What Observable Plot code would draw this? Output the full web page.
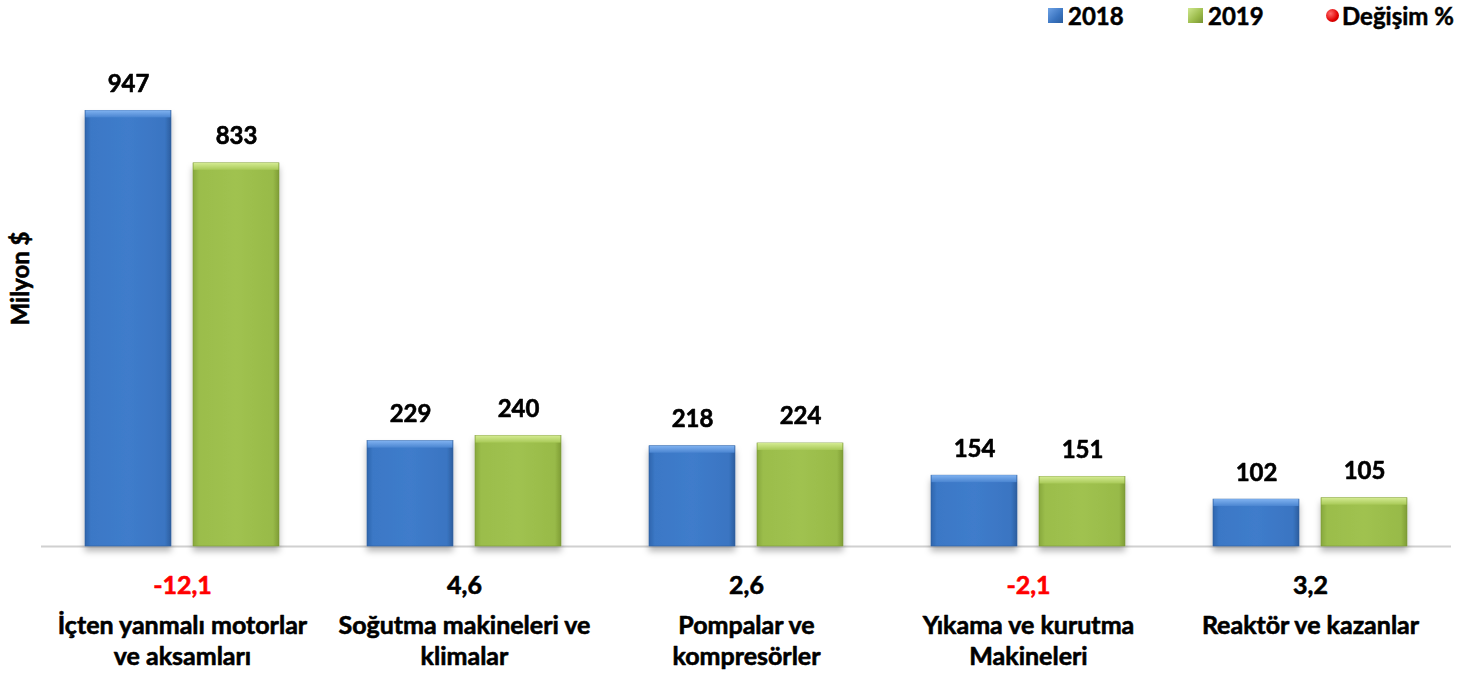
<!DOCTYPE html>
<html>
<head>
<meta charset="utf-8">
<script src="https://cdn.jsdelivr.net/npm/d3@7"></script>
<script src="https://cdn.jsdelivr.net/npm/@observablehq/plot@0.6"></script>
<style>
  html, body { margin: 0; padding: 0; background: #fff; }
  #wrap { position: relative; width: 1470px; height: 674px; font-family: Lato, "Open Sans", sans-serif; }
  #legend { position: absolute; top: 2px; left: 0; width: 1470px; height: 26px; font-weight: 700; font-size: 24px; color: #000; -webkit-text-stroke: 0.5px #000; }
  .li { position: absolute; top: 0; display: flex; align-items: center; height: 26px; }
  .sw { display: inline-block; width: 15px; height: 15px; margin-right: 5px; }
  .dot { display: inline-block; width: 13px; height: 13px; border-radius: 50%; margin-right: 3px;
         background: radial-gradient(circle at 35% 35%, #ff6a6a, #e00000 60%, #a00000); }
</style>
</head>
<body>
<div id="wrap">
  <div id="legend">
    <div class="li" style="left:1048px"><span class="sw" style="background:linear-gradient(135deg,#6fa3e6,#3a74c0 60%,#2b5d9e)"></span>2018</div>
    <div class="li" style="left:1188px"><span class="sw" style="background:linear-gradient(135deg,#cfe88f,#9bbb4a 60%,#779232)"></span>2019</div>
    <div class="li" style="left:1326px"><span class="dot"></span>Değişim %</div>
  </div>
  <div id="chart"></div>
</div>
<script>
const categories = [
  "İçten yanmalı motorlar\nve aksamları",
  "Soğutma makineleri ve\nklimalar",
  "Pompalar ve\nkompresörler",
  "Yıkama ve kurutma\nMakineleri",
  "Reaktör ve kazanlar"
];
const years = ["2018", "2019"];
const values2018 = [947, 229, 218, 154, 102];
const values2019 = [833, 240, 224, 151, 105];
const changePct = [-12.1, 4.6, 2.6, -2.1, 3.2];

const bars = [];
categories.forEach((c, i) => {
  bars.push({cat: c, year: "2018", value: values2018[i]});
  bars.push({cat: c, year: "2019", value: values2019[i]});
});
const changes = categories.map((c, i) => ({cat: c, change: changePct[i]}));

const fmt = v => v.toFixed(1).replace(".", ",");
const fillMain = {"2018": "url(#gBlue)", "2019": "url(#gGreen)"};
const fillTop = {"2018": "url(#gBlueTop)", "2019": "url(#gGreenTop)"};
const heavy = {fontWeight: 700, strokeWidth: 0.6};

const plot = Plot.plot({
  width: 1470,
  height: 674,
  marginLeft: 40,
  marginRight: 18,
  marginTop: 86,
  marginBottom: 128,
  style: {fontFamily: "Lato, 'Open Sans', sans-serif", background: "transparent"},
  fx: {domain: categories, padding: 0, axis: null},
  x: {domain: years, paddingInner: 0.2, paddingOuter: 0.394, axis: null},
  y: {domain: [0, 1000], axis: null},
  marks: [
    Plot.ruleY([0], {stroke: "#d0d0d0", strokeWidth: 2}),
    Plot.barY(bars, {fx: "cat", x: "year", y: "value", fill: d => fillMain[d.year], stroke: d => d.year === "2018" ? "#2f5f9c" : "#7b9636", strokeWidth: 0.6}),
    Plot.rect(bars, {fx: "cat", x: "year", y1: "value", y2: "value", insetBottom: -7, insetLeft: 0.5, insetRight: 0.5, fill: d => fillTop[d.year]}),
    Plot.text(bars, {fx: "cat", x: "year", y: "value", text: d => String(d.value), lineAnchor: "bottom", dy: -19, fontSize: 24, ...heavy, fill: "#000", stroke: "#000"}),
    Plot.text(changes, {fx: "cat", frameAnchor: "bottom", text: d => fmt(d.change), lineAnchor: "middle", dy: 39, fontSize: 25, ...heavy, fill: d => d.change < 0 ? "#ff0000" : "#000", stroke: d => d.change < 0 ? "#ff0000" : "#000"}),
    Plot.text(changes, {fx: "cat", frameAnchor: "bottom", text: d => d.cat, lineAnchor: "top", dy: 65, lineHeight: 1.26, fontSize: 25, ...heavy, fill: "#000", stroke: "#000"}),
    Plot.text(["Milyon $"], {frameAnchor: "left", fx: () => categories[0], textAnchor: "middle", rotate: -90, dx: -20, dy: -38, fontSize: 24, ...heavy, fill: "#000", stroke: "#000", text: d => d})
  ]
});

const svgns = "http://www.w3.org/2000/svg";
const defs = document.createElementNS(svgns, "defs");
defs.innerHTML = `
  <linearGradient id="gBlue" x1="0" y1="0" x2="1" y2="0">
    <stop offset="0" stop-color="#2f66ae"/>
    <stop offset="0.07" stop-color="#3b78c6"/>
    <stop offset="0.5" stop-color="#3f7ccb"/>
    <stop offset="0.93" stop-color="#3a75c2"/>
    <stop offset="1" stop-color="#2c5e9f"/>
  </linearGradient>
  <linearGradient id="gGreen" x1="0" y1="0" x2="1" y2="0">
    <stop offset="0" stop-color="#87a83c"/>
    <stop offset="0.07" stop-color="#9bbd4b"/>
    <stop offset="0.5" stop-color="#a0c250"/>
    <stop offset="0.93" stop-color="#98ba48"/>
    <stop offset="1" stop-color="#7f9d36"/>
  </linearGradient>
  <linearGradient id="gBlueTop" x1="0" y1="0" x2="0" y2="1">
    <stop offset="0" stop-color="#80b2f0"/>
    <stop offset="1" stop-color="#4a85d1"/>
  </linearGradient>
  <linearGradient id="gGreenTop" x1="0" y1="0" x2="0" y2="1">
    <stop offset="0" stop-color="#d4eb92"/>
    <stop offset="1" stop-color="#a8c957"/>
  </linearGradient>
  <filter id="shadow" x="-10%" y="-10%" width="120%" height="130%">
    <feDropShadow dx="0" dy="5" stdDeviation="3" flood-color="#000" flood-opacity="0.28"/>
  </filter>`;
plot.insertBefore(defs, plot.firstChild);
d3.select(plot).selectAll('g[aria-label="bar"]').attr("filter", "url(#shadow)");
document.getElementById("chart").appendChild(plot);
</script>
</body>
</html>
